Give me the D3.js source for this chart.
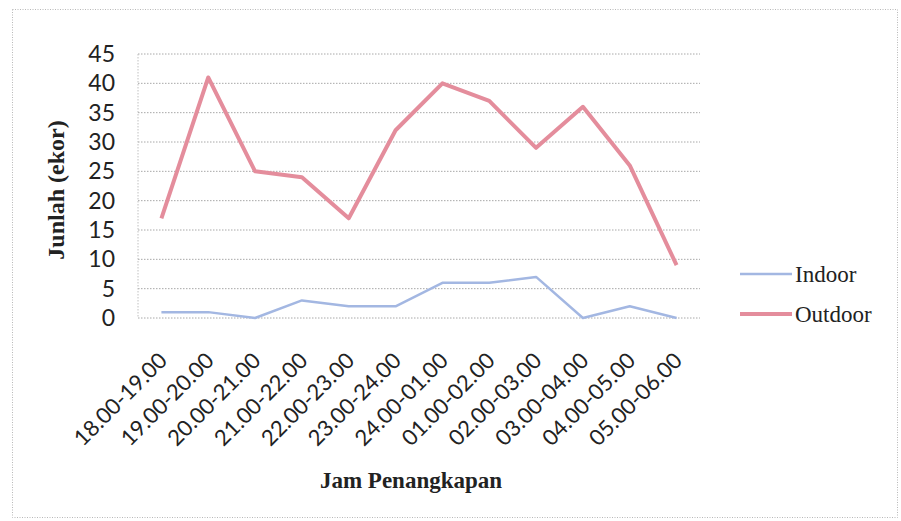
<!DOCTYPE html>
<html>
<head>
<meta charset="utf-8">
<script src="https://cdn.jsdelivr.net/npm/d3@7"></script>
<style>
  body { margin: 0; background: #fff; }
  svg { display: block; }
</style>
</head>
<body>
<div id="chart"></div>
<script>
let hours = ['18.00-19.00', '19.00-20.00', '20.00-21.00', '21.00-22.00', '22.00-23.00', '23.00-24.00',
  '24.00-01.00', '01.00-02.00', '02.00-03.00', '03.00-04.00', '04.00-05.00', '05.00-06.00']
let indoor = [1, 1, 0, 3, 2, 2, 6, 6, 7, 0, 2, 0]
let outdoor = [17, 41, 25, 24, 17, 32, 40, 37, 29, 36, 26, 9]
let yTicks = [0, 5, 10, 15, 20, 25, 30, 35, 40, 45]

let series = [
  { name: 'Indoor', values: indoor, color: '#a3b7e2', width: 2.5 },
  { name: 'Outdoor', values: outdoor, color: '#e48d9c', width: 4 }
]

let margin = { top: 54, left: 138, right: 201, bottom: 203 }
let width = 901 - margin.left - margin.right
let height = 521 - margin.top - margin.bottom

let root = d3.select('#chart')
  .append('svg')
  .attr('width', 901)
  .attr('height', 521)

// dotted frame around whole chart
root.append('rect')
  .attr('x', 12.5)
  .attr('y', 9.5)
  .attr('width', 885)
  .attr('height', 508)
  .attr('fill', 'none')
  .attr('stroke', '#b8b8b8')
  .attr('stroke-dasharray', '1,1.5')

let svg = root.append('g')
  .attr('transform', 'translate(' + margin.left + ',' + margin.top + ')')

let xPositionScale = d3.scaleBand().domain(hours).range([0, width])
let yPositionScale = d3.scaleLinear().domain([0, 45]).range([height, 0])

// gridlines
svg.selectAll('.grid')
  .data(yTicks)
  .enter()
  .append('line')
  .attr('class', 'grid')
  .attr('x1', 0)
  .attr('x2', width)
  .attr('y1', d => yPositionScale(d))
  .attr('y2', d => yPositionScale(d))
  .attr('stroke', '#a8a8a8')
  .attr('stroke-width', 1)
  .attr('stroke-dasharray', '1.5,1.5')

svg.append('line')
  .attr('x1', 0).attr('x2', 0)
  .attr('y1', 0).attr('y2', height)
  .attr('stroke', '#c0c0c0')
  .attr('stroke-dasharray', '1.5,1.5')

// y axis
let yAxis = d3.axisLeft(yPositionScale).tickValues(yTicks).tickSize(0).tickPadding(23)
svg.append('g')
  .attr('class', 'axis y-axis')
  .call(yAxis)
  .call(g => g.select('.domain').remove())
  .selectAll('text')
  .attr('font-family', 'Lato, "Open Sans", sans-serif')
  .attr('font-size', 23)
  .attr('fill', '#222')

// x axis
let xAxis = d3.axisBottom(xPositionScale).tickSize(0).tickPadding(0)
svg.append('g')
  .attr('class', 'axis x-axis')
  .attr('transform', 'translate(0,' + height + ')')
  .call(xAxis)
  .call(g => g.select('.domain').remove())
  .selectAll('text')
  .attr('font-family', 'Lato, "Open Sans", sans-serif')
  .attr('font-size', 22)
  .attr('fill', '#222')
  .attr('text-anchor', 'end')
  .attr('dy', 0)
  .attr('transform', 'translate(7,44) rotate(-45)')

let line = d3.line()
  .x((d, i) => xPositionScale(hours[i]) + xPositionScale.bandwidth() / 2)
  .y(d => yPositionScale(d))

svg.selectAll('.series-line')
  .data(series)
  .enter()
  .append('path')
  .attr('class', 'series-line')
  .attr('d', d => line(d.values))
  .attr('fill', 'none')
  .attr('stroke', d => d.color)
  .attr('stroke-width', d => d.width)
  .attr('stroke-linejoin', 'round')

// axis titles
root.append('text')
  .attr('transform', 'translate(64,190) rotate(-90)')
  .attr('text-anchor', 'middle')
  .attr('font-family', '"Liberation Serif", serif')
  .attr('font-weight', 'bold')
  .attr('font-size', 24)
  .attr('fill', '#222')
  .text('Junlah (ekor)')

root.append('text')
  .attr('x', 411)
  .attr('y', 488)
  .attr('text-anchor', 'middle')
  .attr('font-family', '"Liberation Serif", serif')
  .attr('font-weight', 'bold')
  .attr('font-size', 23)
  .attr('fill', '#222')
  .text('Jam Penangkapan')

// legend
let legend = root.selectAll('.legend')
  .data(series)
  .enter()
  .append('g')
  .attr('class', 'legend')
  .attr('transform', (d, i) => 'translate(740,' + (274 + i * 40) + ')')

legend.append('line')
  .attr('x1', 0).attr('x2', 52)
  .attr('stroke', d => d.color)
  .attr('stroke-width', d => d.width)

legend.append('text')
  .attr('x', 55)
  .attr('y', 0)
  .attr('dy', '0.35em')
  .attr('font-family', '"Liberation Serif", serif')
  .attr('font-size', 23)
  .attr('fill', '#222')
  .text(d => d.name)
</script>
</body>
</html>
